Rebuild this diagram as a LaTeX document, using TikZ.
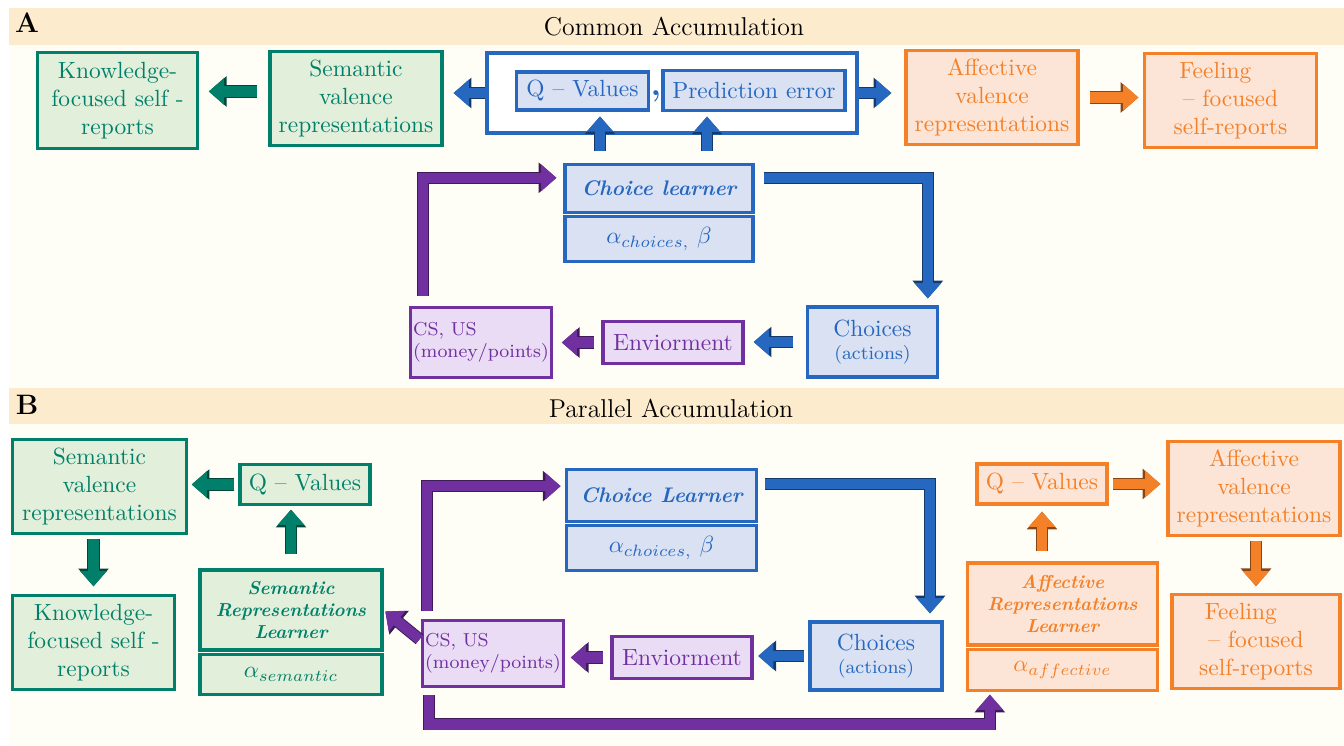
\documentclass[tikz,border=0pt]{standalone}
\usepackage{tikz}
\usetikzlibrary{arrows.meta, positioning}

\definecolor{tealc}{RGB}{0,128,106}
\definecolor{tealf}{RGB}{226,239,218}
\definecolor{bluec}{RGB}{38,104,192}
\definecolor{bluef}{RGB}{217,225,243}
\definecolor{orgc}{RGB}{244,128,40}
\definecolor{orgf}{RGB}{252,228,214}
\definecolor{purc}{RGB}{112,48,160}
\definecolor{purf}{RGB}{234,220,245}
\definecolor{bandc}{RGB}{252,235,204}
\definecolor{paper}{RGB}{255,254,246}

\begin{document}
\begin{tikzpicture}[x=0.015cm, y=-0.015cm,
  cbox/.style={rectangle, line width=1.3pt, inner sep=1pt, align=center, font=\normalsize},
  gbox/.style={cbox, draw=tealc, fill=tealf, text=tealc},
  bbox/.style={cbox, draw=bluec, fill=bluef, text=bluec},
  obox/.style={cbox, draw=orgc, fill=orgf, text=orgc},
  pbox/.style={cbox, draw=purc, fill=purf, text=purc},
  lrn/.style={font=\small\bfseries\itshape},
  blk/.style={draw=#1, line width=4.4pt, -{Triangle[length=6.5pt,width=11pt]},
    preaction={draw=#1!55!black, line width=5.2pt, -{Triangle[length=7.6pt,width=12.6pt]}}},
  ttl/.style={font=\fontsize{11}{13}\selectfont},
  tag/.style={font=\large\bfseries},
]
% background and panel bands
\fill[white] (0,0) rectangle (1344,746);
\fill[paper] (9,8) rectangle (1344,746);
\fill[bandc] (9,8) rectangle (1344,45);
\fill[bandc] (9,388) rectangle (1344,424);
\useasboundingbox (0,0) rectangle (1344,746);

\node[tag] (tgA) at (27,23) {A};
\node[ttl] (ttA) at (674,27) {Common Accumulation};
\node[tag] (tgB) at (27,405) {B};
\node[ttl] (ttB) at (671,408) {Parallel Accumulation};

% panel A
\node[gbox, minimum width=2.39cm, minimum height=1.43cm] (knA) at (117.5,100.5) {Knowledge-\\focused self -\\reports};
\node[gbox, minimum width=2.58cm, minimum height=1.40cm] (semA) at (356,98.5) {Semantic\\valence\\representations};
\node[bbox, fill=white, minimum width=5.55cm, minimum height=1.2cm] (qpA) at (672,93) {};
\node[bbox, minimum width=1.97cm, minimum height=0.57cm] (qA) at (582.5,91) {Q -- Values};
\node[bbox, minimum width=2.73cm, minimum height=0.59cm] (peA) at (754,90.5) {Prediction error};
\node[text=bluec, font=\Large\bfseries] (cmA) at (656,96) {,};
\node[obox, minimum width=2.58cm, minimum height=1.40cm] (affA) at (992,97.5) {Affective\\valence\\representations};
\node[obox, minimum width=2.57cm, minimum height=1.40cm] (feelA) at (1230.5,100.5) {Feeling\hspace*{1.3em}\\-- focused\\self-reports};
\node[bbox, lrn, minimum width=2.82cm, minimum height=0.71cm] (chA) at (659,188.5) {Choice learner};
\node[bbox, minimum width=2.82cm, minimum height=0.67cm, below=0.6pt of chA] (alA) {$\alpha_{choices,}\ \beta$};
\node[bbox, minimum width=1.94cm, minimum height=1.05cm] (chsA) at (872.5,342) {Choices\\[-2pt]{\footnotesize(actions)}};
\node[pbox, minimum width=2.1cm, minimum height=0.62cm] (envA) at (673,342.5) {Enviorment};
\node[pbox, font=\footnotesize, align=left, minimum width=1.95cm, minimum height=1.04cm] (csA) at (481,342.5) {CS, US\\(money/points)};

\coordinate (a1) at ([yshift=3pt]semA.west);
\coordinate (u1) at ([xshift=-0.885cm]chA.north);
\coordinate (u2) at ([xshift=0.72cm]chA.north);
\coordinate (p1) at ([xshift=0.21cm]csA.north west);
\coordinate (p2) at ([yshift=0.16cm]chA.west);
\coordinate (b1) at ([yshift=0.16cm]chA.east);
\coordinate (b2) at ([xshift=0.83cm]chsA.north);

\draw[blk=tealc, shorten <=5pt, shorten >=4.3pt] (a1) -- (a1 -| knA.east);
\draw[blk=bluec, shorten >=4.3pt] (qpA.west) -- (qpA.west -| semA.east);
\draw[blk=bluec, shorten >=5.6pt] (qpA.east) -- (qpA.east -| affA.west);
\draw[blk=orgc, shorten <=4.3pt, shorten >=2.1pt] (affA.east) -- (affA.east -| feelA.west);
\draw[blk=bluec, shorten <=5.1pt, shorten >=2.1pt] (u1) -- (u1 |- qA.south);
\draw[blk=bluec, shorten <=5.1pt, shorten >=2.1pt] (u2) -- (u2 |- peA.south);
\draw[blk=purc, shorten <=4.3pt, shorten >=3pt] (p1) |- (p2);
\draw[blk=bluec, shorten <=3.9pt, shorten >=3pt] (b1) -| (b2);
\draw[blk=bluec, shorten <=5.6pt, shorten >=3.9pt] (chsA.west) -- (chsA.west -| envA.east);
\draw[blk=purc, shorten <=3.4pt, shorten >=3.9pt] (envA.west) -- (envA.west -| csA.east);

% panel B
\node[gbox, minimum width=2.6cm, minimum height=1.40cm] (semB) at (99.5,486.5) {Semantic\\valence\\representations};
\node[gbox, minimum width=1.95cm, minimum height=0.59cm] (qgB) at (305,484.5) {Q -- Values};
\node[gbox, minimum width=2.42cm, minimum height=1.40cm] (knB) at (93.5,642.5) {Knowledge-\\focused self -\\reports};
\node[gbox, font=\footnotesize\bfseries\itshape, minimum width=2.73cm, minimum height=1.2cm] (slB) at (291,610) {Semantic\\Representations\\Learner};
\node[gbox, minimum width=2.73cm, minimum height=0.6cm, below=0.6pt of slB] (alsB) {$\alpha_{semantic}$};
\node[bbox, lrn, minimum width=2.84cm, minimum height=0.77cm] (chB) at (661.5,495.5) {Choice Learner};
\node[bbox, minimum width=2.84cm, minimum height=0.67cm, below=0.6pt of chB] (alB) {$\alpha_{choices,}\ \beta$};
\node[bbox, minimum width=1.98cm, minimum height=1.02cm] (chsB) at (876,656) {Choices\\[-2pt]{\footnotesize(actions)}};
\node[pbox, minimum width=2.1cm, minimum height=0.62cm] (envB) at (682,657.5) {Enviorment};
\node[pbox, font=\footnotesize, align=left, minimum width=1.98cm, minimum height=1.0cm] (csB) at (493,653.5) {CS, US\\(money/points)};
\node[obox, font=\footnotesize\bfseries\itshape, minimum width=2.84cm, minimum height=1.23cm] (afB) at (1062.5,604) {Affective\\Representations\\Learner};
\node[obox, minimum width=2.84cm, minimum height=0.62cm, below=0.6pt of afB] (alaB) {$\alpha_{affective}$};
\node[obox, minimum width=1.95cm, minimum height=0.6cm] (oqB) at (1042,484) {Q -- Values};
\node[obox, minimum width=2.58cm, minimum height=1.40cm] (avB) at (1254,488.5) {Affective\\valence\\representations};
\node[obox, minimum width=2.52cm, minimum height=1.40cm] (fdB) at (1256,641.5) {Feeling\hspace*{1.3em}\\-- focused\\self-reports};

\coordinate (p3) at ([xshift=0.09cm]csB.north west);
\coordinate (p4) at ([yshift=0.14cm]chB.west);
\coordinate (b3) at ([yshift=0.17cm]chB.east);
\coordinate (b4) at ([xshift=0.81cm]chsB.north);
\coordinate (q1) at ([xshift=0.12cm]csB.south west);
\coordinate (q2) at ([xshift=-1.09cm]alaB.south);

\draw[blk=tealc, shorten <=1.7pt, shorten >=1.7pt] (qgB.west) -- (qgB.west -| semB.east);
\draw[blk=tealc, shorten <=2pt, shorten >=3.4pt] (knB.north |- semB.south) -- (knB.north);
\draw[blk=tealc, shorten <=6pt, shorten >=1.7pt] (slB.north) -- (slB.north |- qgB.south);
\draw[blk=purc, shorten <=1pt, shorten >=1pt] (csB.170) -- (slB.east);
\draw[blk=purc, shorten <=3.4pt, shorten >=2pt] (p3) |- (p4);
\draw[blk=bluec, shorten <=3pt, shorten >=3pt] (b3) -| (b4);
\draw[blk=bluec, shorten <=2pt, shorten >=2pt] (chsB.west) -- (chsB.west -| envB.east);
\draw[blk=purc, shorten <=3pt, shorten >=2.6pt] (envB.west) -- (envB.west -| csB.east);
\draw[blk=purc, shorten <=3pt, shorten >=1pt] (q1) -- ++(0,36) -| (q2);
\draw[blk=orgc, shorten <=4.3pt, shorten >=2.6pt] (oqB.south |- afB.north) -- (oqB.south);
\draw[blk=orgc, shorten <=2pt, shorten >=2.6pt] (oqB.east) -- (oqB.east -| avB.west);
\draw[blk=orgc, shorten <=2pt, shorten >=3pt] (avB.south -| fdB.north) -- (fdB.north);
\end{tikzpicture}
\end{document}
